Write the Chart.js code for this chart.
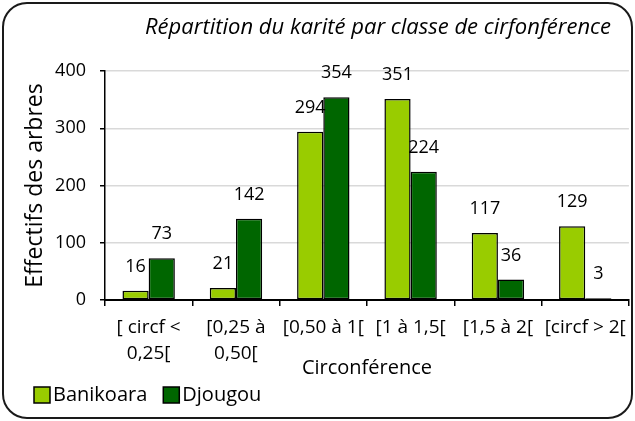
<!DOCTYPE html>
<html>
<head>
<meta charset="utf-8">
<script src="https://cdn.jsdelivr.net/npm/chart.js@4/dist/chart.umd.min.js"></script>
<style>
  html, body { margin: 0; padding: 0; background: #fff; }
  #wrap { width: 635px; height: 421px; position: relative; }
</style>
</head>
<body>
<div id="wrap"><canvas id="chart"></canvas></div>
<script>
const categories = [['[ circf <', '0,25['], ['[0,25 à', '0,50['], '[0,50 à 1[', '[1 à 1,5[', '[1,5 à 2[', '[circf > 2['];
const banikoara = [16, 21, 294, 351, 117, 129];
const djougou = [73, 142, 354, 224, 36, 3];
const yTicks = [0, 100, 200, 300, 400];

const FONT = "'Open Sans', sans-serif";
const chartTitle = 'Répartition du karité par classe de cirfonférence';

// fond blanc, cadre arrondi et titre en italique
const framePlugin = {
  id: 'frame',
  beforeDraw(chart) {
    const ctx = chart.ctx;
    ctx.save();
    ctx.fillStyle = '#fff';
    ctx.fillRect(0, 0, chart.width, chart.height);
    ctx.restore();
  },
  afterDraw(chart) {
    const ctx = chart.ctx;
    ctx.save();
    ctx.strokeStyle = '#1a1a1a';
    ctx.lineWidth = 2;
    ctx.beginPath();
    ctx.roundRect(3, 3, chart.width - 6, chart.height - 6, 24);
    ctx.stroke();
    ctx.fillStyle = '#000';
    ctx.font = 'italic 22px ' + FONT;
    ctx.textAlign = 'right';
    ctx.textBaseline = 'middle';
    ctx.fillText(chartTitle, 611, 28);
    ctx.restore();
  }
};

// valeurs au-dessus des barres
const valueLabels = {
  id: 'valueLabels',
  afterDatasetsDraw(chart) {
    const ctx = chart.ctx;
    ctx.save();
    ctx.fillStyle = '#000';
    ctx.font = '18px ' + FONT;
    ctx.textAlign = 'center';
    ctx.textBaseline = 'middle';
    chart.data.datasets.forEach((ds, i) => {
      chart.getDatasetMeta(i).data.forEach((bar, j) => {
        ctx.fillText(ds.data[j], bar.x, bar.y - 24);
      });
    });
    ctx.restore();
  }
};

// légende en bas à gauche
const bottomLegend = {
  id: 'bottomLegend',
  afterDraw(chart) {
    const ctx = chart.ctx;
    ctx.save();
    ctx.font = '20px ' + FONT;
    ctx.textBaseline = 'middle';
    let x = 34;
    const y = 395;
    chart.data.datasets.forEach(ds => {
      ctx.fillStyle = ds.backgroundColor;
      ctx.fillRect(x, y - 8, 16, 16);
      ctx.strokeStyle = '#000';
      ctx.lineWidth = 1.5;
      ctx.strokeRect(x, y - 8, 16, 16);
      ctx.fillStyle = '#000';
      ctx.fillText(ds.label, x + 19, y);
      x += 19 + ctx.measureText(ds.label).width + 16;
    });
    ctx.restore();
  }
};

new Chart(document.getElementById('chart'), {
  type: 'bar',
  data: {
    labels: categories,
    datasets: [
      { label: 'Banikoara', data: banikoara, backgroundColor: '#99cc00', borderColor: '#000', borderWidth: 1.5, borderSkipped: false },
      { label: 'Djougou', data: djougou, backgroundColor: '#006600', borderColor: '#000', borderWidth: 1.5, borderSkipped: false }
    ]
  },
  options: {
    responsive: true,
    maintainAspectRatio: false,
    devicePixelRatio: 1,
    animation: false,
    layout: { padding: { left: 22, right: 2, top: 71, bottom: 43 } },
    datasets: { bar: { categoryPercentage: 0.6, barPercentage: 1 } },
    plugins: {
      legend: { display: false },
      title: { display: false },
      tooltip: { enabled: false }
    },
    scales: {
      x: {
        afterFit(scale) { scale.height = 78; },
        grid: { drawOnChartArea: false, drawTicks: true, tickLength: 6, tickColor: '#000', lineWidth: 1.5, offset: true },
        border: { color: '#000', width: 2 },
        ticks: { color: '#000', font: { family: FONT, size: 19, lineHeight: 1.37 }, padding: 9, maxRotation: 0, autoSkip: false },
        title: { display: true, text: 'Circonférence', color: '#000', font: { family: FONT, size: 20, lineHeight: 1 }, padding: 0 }
      },
      y: {
        min: 0,
        max: 400,
        afterFit(scale) { scale.width = 83; },
        afterBuildTicks(scale) { scale.ticks = yTicks.map(v => ({ value: v })); },
        grid: { color: '#d9d9d9', lineWidth: 1.5, tickColor: '#000', tickLength: 5 },
        border: { color: '#000', width: 1.5 },
        ticks: { color: '#000', font: { family: FONT, size: 18 }, padding: 14 },
        title: { display: true, text: 'Effectifs des arbres', color: '#000', font: { family: FONT, size: 23 }, padding: 0 }
      }
    }
  },
  plugins: [framePlugin, valueLabels, bottomLegend]
});
</script>
</body>
</html>
